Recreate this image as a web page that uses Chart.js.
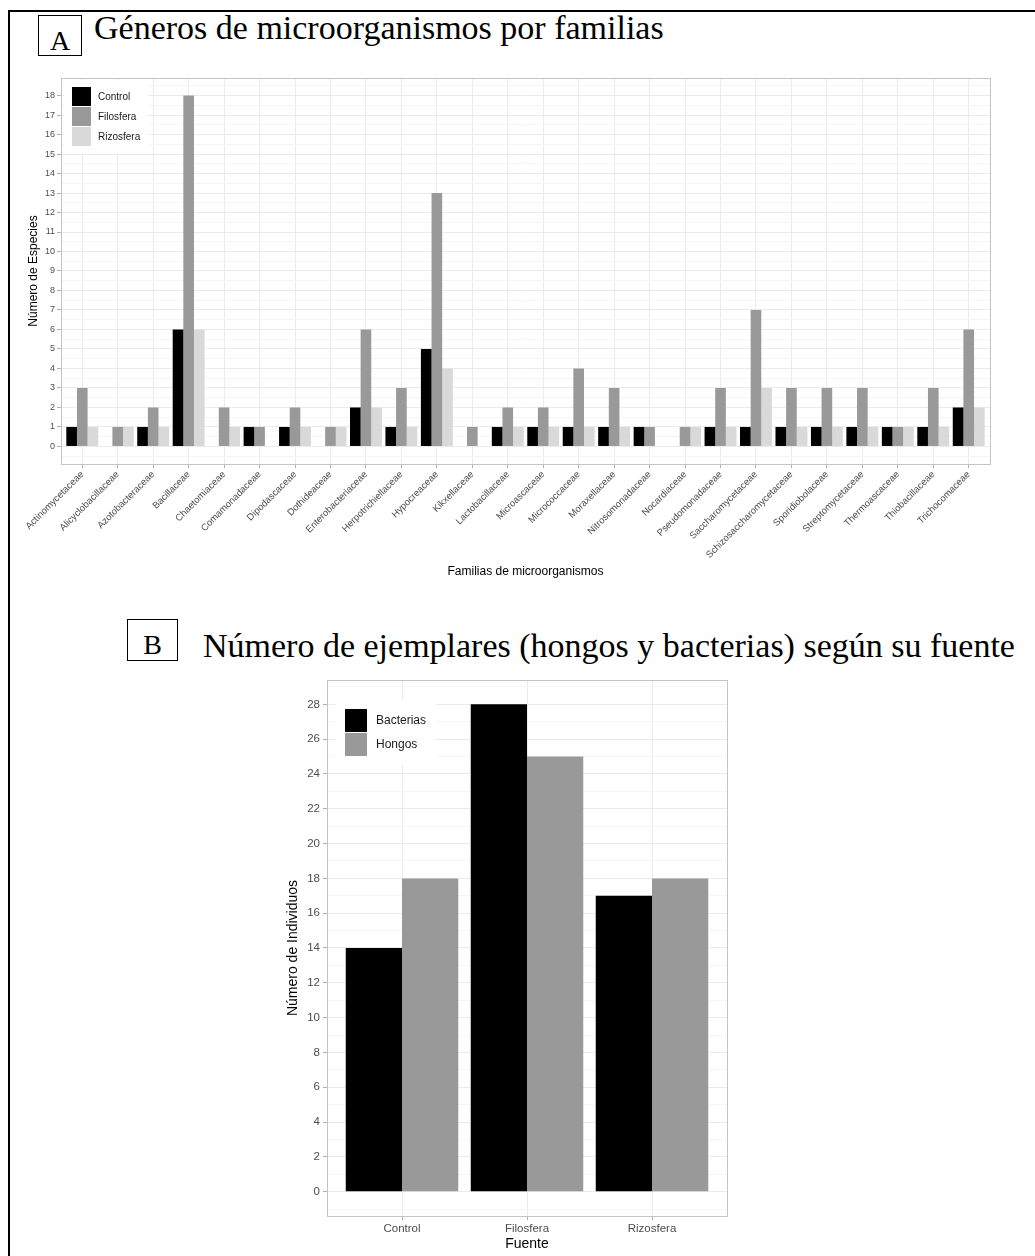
<!DOCTYPE html>
<html>
<head>
<meta charset="utf-8">
<script src="https://cdn.jsdelivr.net/npm/chart.js@4.4.0/dist/chart.umd.min.js"></script>
<style>
  body { margin:0; width:1035px; height:1256px; background:#fff; position:relative; overflow:hidden; font-family:"Liberation Serif","Times New Roman",serif; }
  #frame { position:absolute; left:8px; top:10px; width:1100px; height:1300px; border-left:2px solid #000; border-top:2px solid #000; }
  .tag { position:absolute; box-sizing:border-box; border:1px solid #000; height:41px; font-size:28px; line-height:28px; text-align:center; }
  .tag span { position:absolute; left:0; right:0; }
  .head { position:absolute; font-size:34px; line-height:34px; white-space:nowrap; }
  canvas { position:absolute; }
</style>
</head>
<body>
<div id="frame"></div>
<div class="tag" style="left:38px;top:15px;width:44px;"><span style="top:11px;">A</span></div>
<div class="head" style="left:94px;top:11px;">Géneros de microorganismos por familias</div>
<div class="tag" style="left:127px;top:619px;width:51px;height:42px;"><span style="top:11px;">B</span></div>
<div class="head" style="left:203px;top:629px;">Número de ejemplares (hongos y bacterias) según su fuente</div>

<canvas id="chartA" width="1013" height="600" style="left:22px;top:0px;"></canvas>
<canvas id="chartB" width="500" height="606" style="left:250px;top:650px;"></canvas>

<script>
  // grafico A: especies por familia
  var familias = ['Actinomycetaceae','Alicyclobacillaceae','Azotobacteraceae','Bacillaceae','Chaetomiaceae',
    'Comamonadaceae','Dipodascaceae','Dothideaceae','Enterobacteriaceae','Herpotrichiellaceae','Hypocreaceae',
    'Kikxellaceae','Lactobacillaceae','Microascaceae','Micrococcaceae','Moraxellaceae','Nitrosomonadaceae',
    'Nocardiaceae','Pseudomonadaceae','Saccharomycetaceae','Schizosaccharomycetaceae','Sporidiobolaceae',
    'Streptomycetaceae','Thermoascaceae','Thiobacillaceae','Trichocomaceae'];
  var control   = [1,0,1,6,0,1,1,0,2,1,5,0,1,1,1,1,1,0,1,1,1,1,1,1,1,2];
  var filosfera = [3,1,2,18,2,1,2,1,6,3,13,1,2,2,4,3,1,1,3,7,3,3,3,1,3,6];
  var rizosfera = [1,1,1,6,1,0,1,1,2,1,4,0,1,1,1,1,0,1,1,3,1,1,1,1,1,2];

  // grafico B: individuos por fuente
  var fuentes   = ['Control','Filosfera','Rizosfera'];
  var bacterias = [14,28,17];
  var hongos    = [18,25,18];

  Chart.defaults.font.family = "'Liberation Sans', Arial, sans-serif";

  var panelBorder = {
    id: 'panelBorder',
    afterDraw: function(chart) {
      var a = chart.chartArea, c = chart.ctx;
      c.save();
      c.strokeStyle = '#C4C4C4';
      c.lineWidth = 1;
      c.strokeRect(Math.round(a.left) + 0.5, Math.round(a.top) + 0.5, Math.round(a.right - a.left), Math.round(a.bottom - a.top));
      c.restore();
    }
  };

  var boxLegend = {
    id: 'boxLegend',
    afterDraw: function(chart, args, o) {
      var a = chart.chartArea, c = chart.ctx;
      c.save();
      c.fillStyle = '#fff';
      c.fillRect(a.left + o.boxX, a.top + o.boxY, o.boxW, o.boxH);
      c.font = o.fontSize + "px 'Liberation Sans', Arial, sans-serif";
      c.textBaseline = 'middle';
      chart.data.datasets.forEach(function(ds, i) {
        var y = a.top + o.keyY + i * o.rowH;
        c.fillStyle = ds.backgroundColor;
        c.fillRect(a.left + o.keyX, y, o.keyW, o.rowH - 1);
        c.fillStyle = '#1A1A1A';
        c.fillText(ds.label, a.left + o.textX, y + o.rowH / 2);
      });
      c.restore();
    }
  };

  function gridY(majorEvery) {
    return {
      color: function(ctx) {
        var v = ctx.tick ? ctx.tick.value : 0;
        return (Math.abs(v % majorEvery) < 1e-9) ? '#EBEBEB' : '#F5F5F5';
      },
      tickColor: function(ctx) {
        var v = ctx.tick ? ctx.tick.value : 0;
        return (Math.abs(v % majorEvery) < 1e-9) ? '#B3B3B3' : 'rgba(0,0,0,0)';
      },
      tickLength: 4,
      lineWidth: 1
    };
  }

  function pts(arr) {
    return arr.map(function(v, i) { return {x: i, y: v}; });
  }

  new Chart(document.getElementById('chartA'), {
    type: 'bar',
    data: {
      datasets: [
        {label: 'Control', data: pts(control), backgroundColor: '#000000'},
        {label: 'Filosfera', data: pts(filosfera), backgroundColor: '#999999'},
        {label: 'Rizosfera', data: pts(rizosfera), backgroundColor: '#D9D9D9'}
      ]
    },
    options: {
      responsive: false,
      animation: false,
      devicePixelRatio: 1,
      categoryPercentage: 0.9,
      barPercentage: 1.0,
      layout: {padding: {left: 0, right: 45, top: 78, bottom: 0}},
      plugins: {
        legend: {display: false},
        tooltip: {enabled: false},
        boxLegend: {boxX: 3, boxY: 2, boxW: 84, boxH: 73, keyX: 11, keyY: 9, keyW: 19, rowH: 20, textX: 37, fontSize: 10}
      },
      scales: {
        x: {
          type: 'linear', min: -0.6, max: 25.6, offset: false,
          ticks: {
            stepSize: 1, includeBounds: false, autoSkip: false, maxRotation: 45, minRotation: 45,
            padding: 1, color: '#4D4D4D', font: {size: 9.5},
            callback: function(v) { return familias[v]; }
          },
          grid: {offset: false, color: '#EBEBEB', tickColor: '#B3B3B3', tickLength: 4},
          border: {display: false},
          title: {display: true, text: 'Familias de microorganismos', color: '#000', font: {size: 12}, padding: {top: 0, bottom: 21}},
          afterFit: function(s) { s.height = 136; }
        },
        y: {
          min: -0.9, max: 18.9,
          ticks: {
            stepSize: 0.5, includeBounds: false, autoSkip: false, padding: 2, color: '#4D4D4D', font: {size: 9},
            callback: function(v) { return Number.isInteger(v) ? v : ''; }
          },
          grid: gridY(1),
          border: {display: false},
          title: {display: true, text: 'Número de Especies', color: '#000', font: {size: 12}, padding: {top: 4, bottom: 0}},
          afterFit: function(s) { s.width = 39; }
        }
      }
    },
    plugins: [panelBorder, boxLegend]
  });

  new Chart(document.getElementById('chartB'), {
    type: 'bar',
    data: {
      datasets: [
        {label: 'Bacterias', data: pts(bacterias), backgroundColor: '#000000'},
        {label: 'Hongos', data: pts(hongos), backgroundColor: '#999999'}
      ]
    },
    options: {
      responsive: false,
      animation: false,
      devicePixelRatio: 1,
      categoryPercentage: 0.9,
      barPercentage: 1.0,
      layout: {padding: {left: 0, right: 23, top: 30, bottom: 0}},
      plugins: {
        legend: {display: false},
        tooltip: {enabled: false},
        boxLegend: {boxX: 8, boxY: 20, boxW: 101, boxH: 65, keyX: 18, keyY: 29, keyW: 22, rowH: 24, textX: 49, fontSize: 12}
      },
      scales: {
        x: {
          type: 'linear', min: -0.6, max: 2.6, offset: false,
          ticks: {
            stepSize: 1, includeBounds: false, autoSkip: false, maxRotation: 0, minRotation: 0,
            padding: 2, color: '#4D4D4D', font: {size: 11.5},
            callback: function(v) { return fuentes[v]; }
          },
          grid: {offset: false, color: '#EBEBEB', tickColor: '#B3B3B3', tickLength: 4},
          border: {display: false},
          title: {display: true, text: 'Fuente', color: '#000', font: {size: 14}, padding: {top: 0, bottom: 3}},
          afterFit: function(s) { s.height = 40; }
        },
        y: {
          min: -1.4, max: 29.4,
          ticks: {
            stepSize: 1, includeBounds: false, autoSkip: false, padding: 3, color: '#4D4D4D', font: {size: 11.5},
            callback: function(v) { return v % 2 === 0 ? v : ''; }
          },
          grid: gridY(2),
          border: {display: false},
          title: {display: true, text: 'Número de Individuos', color: '#000', font: {size: 14}, padding: {top: 35, bottom: 0}},
          afterFit: function(s) { s.width = 77; }
        }
      }
    },
    plugins: [panelBorder, boxLegend]
  });
</script>
</body>
</html>
